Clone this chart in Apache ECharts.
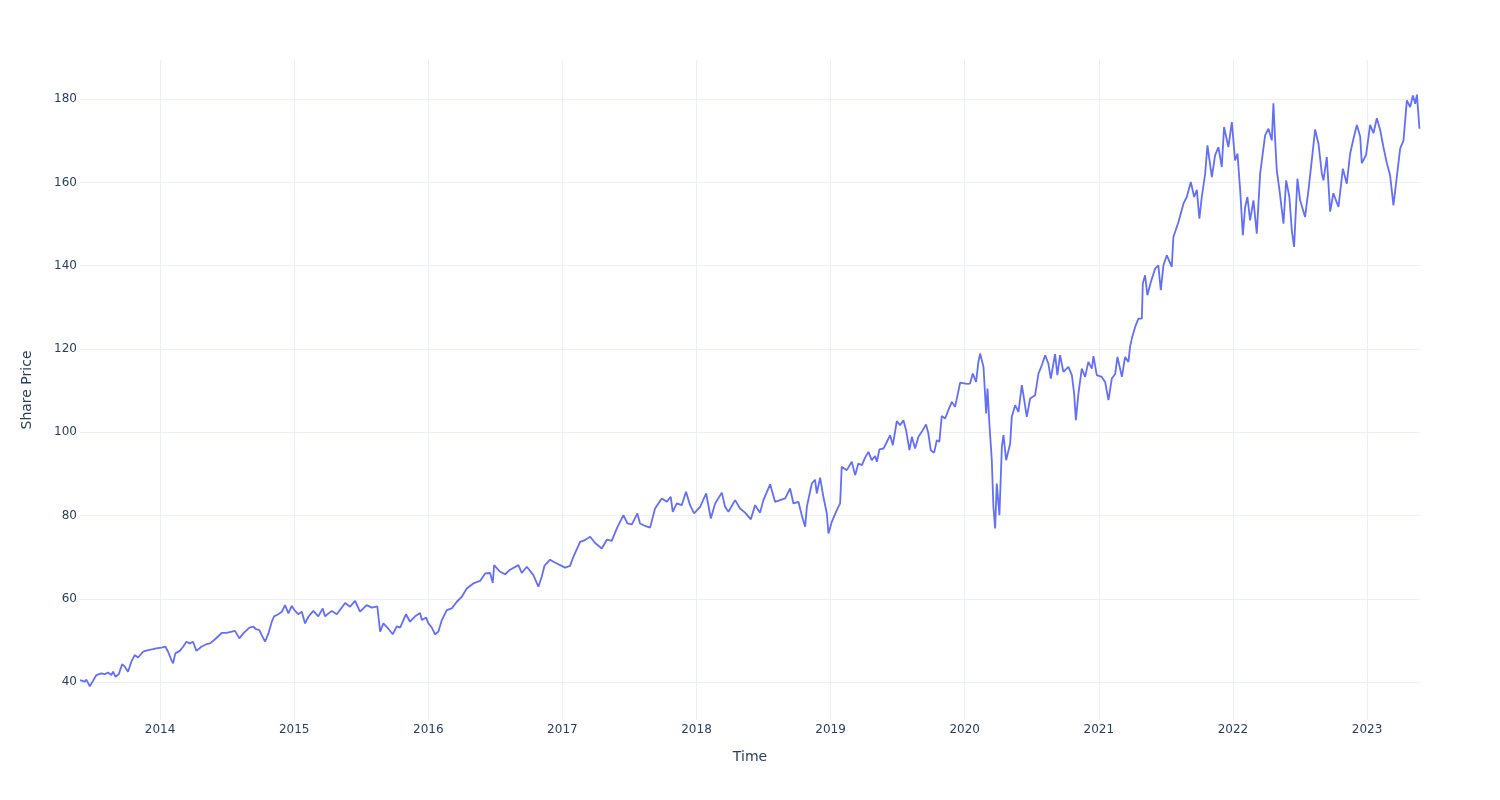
<!DOCTYPE html>
<html>
<head>
<meta charset="utf-8">
<script src="https://cdn.jsdelivr.net/npm/echarts@6/dist/echarts.min.js"></script>
<style>
html,body{margin:0;padding:0;background:#fff;}
#chart{width:1500px;height:800px;}
</style>
</head>
<body>
<div id="chart"></div>
<script>
// Time as decimal years
const years = [
2013.403,2013.439,2013.450,2013.476,2013.500,2013.525,2013.562,2013.588,2013.612,2013.637,
2013.650,2013.667,2013.692,2013.717,2013.737,2013.761,2013.786,2013.811,2013.836,2013.873,
2013.911,2013.948,2013.972,2014.010,2014.040,2014.060,2014.084,2014.097,2014.114,2014.147,
2014.172,2014.196,2014.221,2014.246,2014.271,2014.308,2014.345,2014.373,2014.410,2014.460,
2014.497,2014.535,2014.559,2014.591,2014.621,2014.666,2014.696,2014.716,2014.741,2014.758,
2014.783,2014.808,2014.833,2014.850,2014.882,2014.908,2014.932,2014.957,2014.982,2015.007,
2015.031,2015.057,2015.081,2015.106,2015.143,
2015.180,2015.213,2015.230,2015.280,2015.318,2015.380,2015.417,2015.454,2015.491,2015.541,
2015.579,2015.620,2015.641,2015.665,2015.695,2015.735,2015.765,2015.790,2015.834,2015.864,
2015.902,2015.939,2015.952,2015.984,2016.001,2016.026,2016.051,2016.075,2016.101,2016.138,
2016.175,2016.213,2016.250,2016.287,2016.336,2016.386,2016.424,2016.461,2016.481,2016.491,
2016.535,2016.573,2016.610,2016.672,2016.697,2016.735,2016.784,2016.821,2016.846,2016.867,
2016.908,2016.933,2016.958,2016.983,2017.020,2017.057,2017.082,2017.132,2017.169,2017.207,
2017.244,2017.294,2017.331,2017.368,2017.406,2017.455,2017.485,2017.518,2017.559,2017.579,
2017.617,2017.654,2017.691,2017.741,2017.779,2017.808,2017.823,2017.853,2017.890,2017.922,
2017.952,2017.982,2018.027,2018.072,2018.107,2018.139,2018.189,2018.213,2018.238,2018.288,
2018.325,2018.362,2018.405,2018.437,2018.474,2018.499,2018.549,2018.586,2018.623,2018.661,
2018.698,2018.723,2018.760,2018.785,2018.810,2018.823,2018.860,2018.884,2018.897,2018.922,
2018.946,2018.972,2018.984,2019.009,2019.046,2019.071,
2019.083,2019.121,2019.158,2019.183,2019.207,2019.233,2019.257,2019.282,2019.307,2019.332,
2019.345,2019.364,2019.394,2019.414,2019.444,2019.464,2019.494,2019.518,2019.543,2019.563,
2019.588,2019.606,2019.630,2019.655,2019.680,2019.712,2019.729,2019.747,2019.772,2019.792,
2019.811,2019.829,2019.854,2019.878,2019.904,2019.928,
2019.966,2020.016,2020.040,2020.060,2020.085,2020.102,2020.115,2020.128,2020.140,2020.160,
2020.170,2020.184,2020.202,2020.214,2020.227,2020.239,2020.259,2020.277,2020.289,2020.309,
2020.339,2020.351,2020.376,2020.401,2020.426,2020.438,2020.463,2020.488,2020.525,2020.550,
2020.575,2020.600,2020.624,2020.642,2020.674,2020.691,2020.711,2020.736,2020.773,2020.799,
2020.816,2020.829,2020.848,2020.873,2020.898,2020.922,2020.948,2020.960,2020.985,2021.022,
2021.047,2021.072,2021.097,2021.122,2021.139,2021.172,2021.196,2021.221,
2021.233,2021.246,2021.271,2021.295,2021.321,2021.328,2021.345,2021.362,2021.388,2021.420,
2021.444,2021.462,2021.482,2021.507,2021.544,2021.556,2021.594,2021.631,2021.656,2021.686,
2021.711,2021.731,2021.750,2021.768,2021.793,2021.810,2021.843,2021.867,2021.892,
2021.917,2021.934,2021.966,2021.992,2022.016,2022.034,2022.054,2022.074,2022.091,2022.108,
2022.128,2022.153,2022.178,2022.203,2022.240,2022.265,2022.290,2022.302,2022.315,2022.327,
2022.347,2022.377,2022.397,2022.421,2022.439,2022.456,2022.481,2022.501,2022.538,2022.563,
2022.588,2022.613,2022.638,2022.663,2022.675,2022.700,2022.725,2022.749,2022.787,2022.820,
2022.849,2022.874,2022.899,2022.924,2022.949,2022.961,2022.993,2023.023,2023.048,2023.073,
2023.098,2023.122,2023.148,2023.172,2023.197,2023.222,2023.247,2023.272,2023.297,2023.322,
2023.342,2023.359,2023.372,2023.391
];
// Share price values (same order as years)
const prices = [
40.5,40.1,40.6,39.0,40.3,41.7,42.1,41.9,42.3,41.7,
42.5,41.3,41.9,44.3,43.7,42.5,44.9,46.5,45.9,47.3,
47.7,47.9,48.1,48.3,48.5,47.3,45.3,44.5,46.9,47.5,
48.5,49.7,49.3,49.7,47.5,48.5,49.1,49.3,50.3,51.8,
51.8,52.1,52.3,50.5,51.7,53.1,53.3,52.7,52.5,51.3,
49.7,51.7,54.5,55.8,56.3,56.9,58.5,56.5,58.3,57.1,
56.3,56.9,54.1,55.7,57.1,
55.8,57.7,55.8,57.1,56.3,59.0,58.1,59.5,56.9,58.5,
57.9,58.2,52.1,54.1,53.1,51.5,53.4,53.1,56.3,54.5,
55.8,56.6,54.9,55.5,54.1,53.1,51.5,52.1,54.9,57.3,
57.7,59.3,60.5,62.5,63.7,64.3,66.1,66.2,63.8,68.1,
66.5,65.9,67.0,68.1,66.2,67.7,65.7,62.9,65.3,68.0,
69.4,68.9,68.5,68.1,67.5,67.9,70.1,73.7,74.1,74.9,
73.4,72.1,74.2,73.9,76.9,80.1,78.1,77.9,80.5,78.1,
77.5,77.1,81.7,84.1,83.3,84.5,80.9,82.9,82.5,85.7,
82.5,80.5,82.1,85.3,79.3,82.9,85.5,82.1,80.9,83.7,
81.7,80.7,79.1,82.5,80.7,83.7,87.5,83.3,83.7,84.1,
86.5,82.9,83.3,80.1,77.3,82.1,87.7,88.6,85.3,89.1,
84.5,80.5,75.7,78.5,81.3,82.9,
91.7,90.9,92.9,89.7,92.5,92.1,93.9,95.3,93.3,94.3,
92.9,95.9,96.1,97.3,99.3,96.9,102.7,101.7,102.9,100.5,
95.7,98.9,96.1,98.9,100.1,101.9,99.7,95.7,95.1,98.1,
97.7,103.9,103.3,105.3,107.3,106.1,
111.9,111.6,111.7,114.1,112.1,116.9,118.9,119.3,115.7,104.5,
110.5,102.1,93.3,82.1,76.9,87.7,80.1,96.5,99.3,93.3,
97.3,103.7,106.5,104.9,111.3,108.9,103.7,108.1,108.9,114.1,
116.1,118.5,116.5,112.9,118.8,113.7,118.5,114.5,115.7,113.7,
109.3,102.9,109.3,115.3,113.3,116.9,115.3,118.3,113.7,113.3,
112.1,107.7,112.9,114.0,118.1,113.3,118.1,116.9,
120.5,122.5,125.3,127.3,127.3,135.7,137.7,132.9,136.1,139.3,
140.1,134.1,140.1,142.5,139.7,146.9,150.5,154.9,156.5,160.1,
156.5,158.2,151.3,156.5,162.1,168.9,161.3,166.5,168.5,
163.7,173.3,168.5,174.5,165.3,166.9,158.2,147.3,154.1,156.5,
150.9,155.7,147.7,162.1,171.3,172.9,170.1,179.0,170.1,162.9,
158.2,150.1,160.5,156.5,148.5,144.5,160.9,155.7,151.7,158.1,
165.3,172.7,169.3,162.1,160.5,166.1,153.0,157.4,154.1,163.3,
159.7,166.9,170.5,173.8,171.0,164.6,166.6,173.8,171.8,175.4,
172.6,168.5,164.6,161.7,154.5,161.3,168.1,170.1,179.7,178.1,
180.9,178.9,181.1,172.9
];
const xTicks = [2014,2015,2016,2017,2018,2019,2020,2021,2022,2023];
const yTicks = [40,60,80,100,120,140,160,180];

const seriesData = years.map((t, i) => [t, prices[i]]);
const fontFam = '"DejaVu Sans", Verdana, Arial, sans-serif';
const textColor = '#2a3f5f';
const gridColor = '#EBF0F8';

const chart = echarts.init(document.getElementById('chart'), null, {renderer: 'canvas'});
chart.setOption({
  animation: false,
  backgroundColor: '#ffffff',
  grid: {left: 80, right: 80, top: 60, bottom: 80, containLabel: false},
  xAxis: {
    type: 'value',
    min: 2013.403,
    max: 2023.395,
    name: 'Time',
    nameLocation: 'middle',
    nameGap: 30,
    nameTextStyle: {color: textColor, fontSize: 14, fontFamily: fontFam},
    axisLine: {show: false},
    axisTick: {show: false, customValues: xTicks},
    axisLabel: {
      customValues: xTicks,
      color: textColor, fontSize: 12, fontFamily: fontFam, margin: 4,
      formatter: v => String(Math.round(v))
    },
    splitLine: {show: true, lineStyle: {color: gridColor, width: 1}}
  },
  yAxis: {
    type: 'value',
    min: 30.9,
    max: 189.4,
    name: 'Share Price',
    nameLocation: 'middle',
    nameGap: 46,
    nameTextStyle: {color: textColor, fontSize: 14, fontFamily: fontFam},
    axisLine: {show: false},
    axisTick: {show: false, customValues: yTicks},
    axisLabel: {
      customValues: yTicks,
      color: textColor, fontSize: 12, fontFamily: fontFam, margin: 3,
      padding: [2, 0, 0, 0]
    },
    splitLine: {show: true, lineStyle: {color: gridColor, width: 1}}
  },
  series: [{
    type: 'line',
    data: seriesData,
    showSymbol: false,
    symbol: 'none',
    smooth: false,
    lineStyle: {color: '#636efa', width: 1.8},
    itemStyle: {color: '#636efa'}
  }]
});
</script>
</body>
</html>
